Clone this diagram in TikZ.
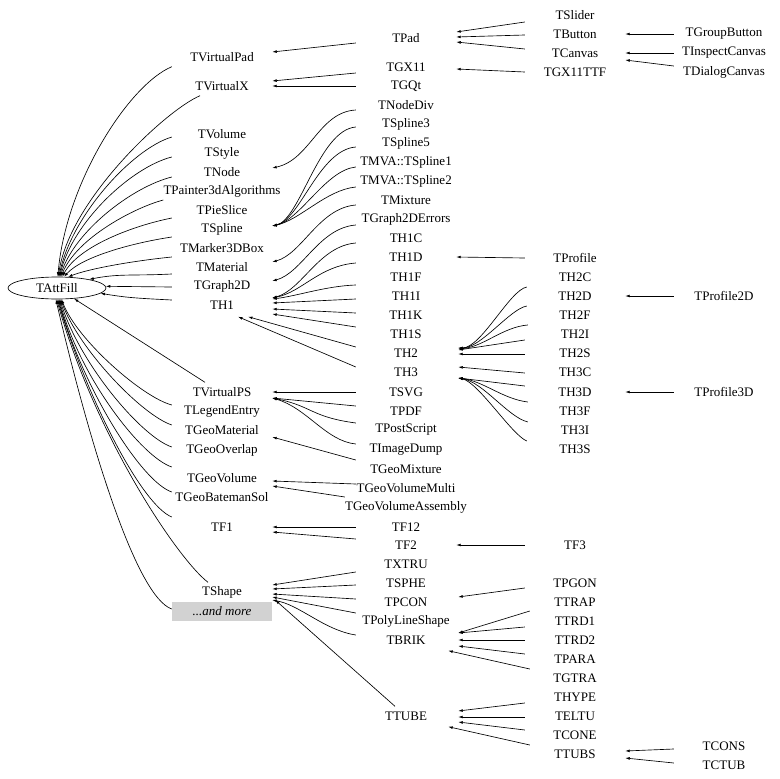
\documentclass[tikz,border=0pt]{standalone}
\usepackage{fontspec}
\setmainfont{Liberation Serif}
\usetikzlibrary{arrows.meta,shapes.geometric,calc}

\tikzset{
  cls/.style={inner sep=0pt,minimum width=100pt,minimum height=19pt,font=\fontsize{13}{15}\selectfont},
  inh/.style={-{Latex[length=4.5pt,width=2.8pt]},line width=0.65pt}
}

\begin{document}
\begin{tikzpicture}[x=1pt,y=-1pt]%[line cap=round,line join=round]
\useasboundingbox (0,0) rectangle (779,779);
% base class
\node [draw,line width=0.65pt,ellipse,inner sep=0pt,minimum width=98pt,minimum height=22pt,font=\fontsize{13}{15}\selectfont] (TAttFill) at (57,288) {TAttFill};
% first level
\node [cls] (TVirtualPad) at (222,57) {TVirtualPad};
\node [cls] (TVirtualX) at (222,86) {TVirtualX};
\node [cls] (TVolume) at (222,134) {TVolume};
\node [cls] (TStyle) at (222,153) {TStyle};
\node [cls] (TNode) at (222,172) {TNode};
\node [cls] (TPainter) at (222,191) {TPainter3dAlgorithms};
\node [cls] (TPieSlice) at (222,210) {TPieSlice};
\node [cls] (TSpline) at (222,229) {TSpline};
\node [cls] (TMarker3DBox) at (222,248) {TMarker3DBox};
\node [cls] (TMaterial) at (222,267) {TMaterial};
\node [cls] (TGraph2D) at (222,286) {TGraph2D};
\node [cls] (TH1) at (222,305) {TH1};
\node [cls] (TVirtualPS) at (222,392) {TVirtualPS};
\node [cls] (TLegendEntry) at (222,411) {TLegendEntry};
\node [cls] (TGeoMaterial) at (222,430) {TGeoMaterial};
\node [cls] (TGeoOverlap) at (222,450) {TGeoOverlap};
\node [cls] (TGeoVolume) at (222,478) {TGeoVolume};
\node [cls] (TGeoBatemanSol) at (222,497) {TGeoBatemanSol};
\node [cls] (TF1) at (222,527) {TF1};
\node [cls] (TShape) at (222,592) {TShape};
\node [cls,fill=gray!35,font=\fontsize{13}{15}\selectfont\itshape] (more) at (222,611) {...and more};
% second level
\node [cls] (TPad) at (406,38) {TPad};
\node [cls] (TGX11) at (406,67) {TGX11};
\node [cls] (TGQt) at (406,86) {TGQt};
\node [cls] (TNodeDiv) at (406,105) {TNodeDiv};
\node [cls] (TSpline3) at (406,124) {TSpline3};
\node [cls] (TSpline5) at (406,143) {TSpline5};
\node [cls] (TMVAspl1) at (406,162) {TMVA::TSpline1};
\node [cls] (TMVAspl2) at (406,181) {TMVA::TSpline2};
\node [cls] (TMixture) at (406,200) {TMixture};
\node [cls] (TGraph2DErrors) at (406,219) {TGraph2DErrors};
\node [cls] (TH1C) at (406,238) {TH1C};
\node [cls] (TH1D) at (406,257) {TH1D};
\node [cls] (TH1F) at (406,277) {TH1F};
\node [cls] (TH1I) at (406,296) {TH1I};
\node [cls] (TH1K) at (406,315) {TH1K};
\node [cls] (TH1S) at (406,334) {TH1S};
\node [cls] (TH2) at (406,353) {TH2};
\node [cls] (TH3) at (406,372) {TH3};
\node [cls] (TSVG) at (406,392) {TSVG};
\node [cls] (TPDF) at (406,411) {TPDF};
\node [cls] (TPostScript) at (406,430) {TPostScript};
\node [cls] (TImageDump) at (406,450) {TImageDump};
\node [cls] (TGeoMixture) at (406,469) {TGeoMixture};
\node [cls] (TGeoVolumeMulti) at (406,488) {TGeoVolumeMulti};
\node [cls] (TGeoVolumeAssembly) at (406,507) {TGeoVolumeAssembly};
\node [cls] (TF12) at (406,527) {TF12};
\node [cls] (TF2) at (406,545) {TF2};
\node [cls] (TXTRU) at (406,564) {TXTRU};
\node [cls] (TSPHE) at (406,583) {TSPHE};
\node [cls] (TPCON) at (406,602) {TPCON};
\node [cls] (TPolyLineShape) at (406,621) {TPolyLineShape};
\node [cls] (TBRIK) at (406,640) {TBRIK};
\node [cls] (TTUBE) at (406,716) {TTUBE};
% third level
\node [cls] (TSlider) at (575,15) {TSlider};
\node [cls] (TButton) at (575,34) {TButton};
\node [cls] (TCanvas) at (575,53) {TCanvas};
\node [cls] (TGX11TTF) at (575,72) {TGX11TTF};
\node [cls] (TProfile) at (575,258) {TProfile};
\node [cls] (TH2C) at (575,277) {TH2C};
\node [cls] (TH2D) at (575,296) {TH2D};
\node [cls] (TH2F) at (575,315) {TH2F};
\node [cls] (TH2I) at (575,334) {TH2I};
\node [cls] (TH2S) at (575,353) {TH2S};
\node [cls] (TH3C) at (575,372) {TH3C};
\node [cls] (TH3D) at (575,392) {TH3D};
\node [cls] (TH3F) at (575,411) {TH3F};
\node [cls] (TH3I) at (575,430) {TH3I};
\node [cls] (TH3S) at (575,449) {TH3S};
\node [cls] (TF3) at (575,545) {TF3};
\node [cls] (TPGON) at (575,583) {TPGON};
\node [cls] (TTRAP) at (575,602) {TTRAP};
\node [cls] (TTRD1) at (575,621) {TTRD1};
\node [cls] (TTRD2) at (575,640) {TTRD2};
\node [cls] (TPARA) at (575,659) {TPARA};
\node [cls] (TGTRA) at (575,678) {TGTRA};
\node [cls] (THYPE) at (575,697) {THYPE};
\node [cls] (TELTU) at (575,716) {TELTU};
\node [cls] (TCONE) at (575,735) {TCONE};
\node [cls] (TTUBS) at (575,754) {TTUBS};
% fourth level
\node [cls] (TGroupButton) at (724,34) {TGroupButton};
\node [cls] (TInspectCanvas) at (724,53) {TInspectCanvas};
\node [cls] (TDialogCanvas) at (724,72) {TDialogCanvas};
\node [cls] (TProfile2D) at (724,296) {TProfile2D};
\node [cls] (TProfile3D) at (724,392) {TProfile3D};
\node [cls] (TCONS) at (724,746) {TCONS};
\node [cls] (TCTUB) at (724,765) {TCTUB};

% first level -> TAttFill, from above
\draw [inh] (TVirtualPad.south west) .. controls +(-43,18) and +(8,-94) .. (TAttFill.86);
\draw [inh] ($(TVirtualX.south)+(-22,0)$) .. controls +(-35,15) and +(10,-75) .. (TAttFill.83);
\draw [inh] ($(TVolume.west)+(0,3)$) .. controls +(-40,12) and +(12,-60) .. (TAttFill.80);
\draw [inh] ($(TStyle.west)+(0,4)$) .. controls +(-40,10) and +(13,-55) .. (TAttFill.77);
\draw [inh] ($(TNode.west)+(0,5)$) .. controls +(-40,10) and +(14,-45) .. (TAttFill.74);
\draw [inh] ($(TPainter.west)+(0,9)$) .. controls +(-30,8) and +(15,-38) .. (TAttFill.70);
\draw [inh] ($(TPieSlice.west)+(0,8)$) .. controls +(-40,8) and +(16,-30) .. (TAttFill.65);
\draw [inh] ($(TSpline.west)+(0,8)$) .. controls +(-40,6) and +(18,-20) .. (TAttFill.58);
\draw [inh] ($(TMarker3DBox.west)+(0,9)$) .. controls +(-40,4) and +(20,-8) .. (TAttFill.45);
\draw [inh] ($(TMaterial.west)+(0,7)$) .. controls +(-40,2) and +(30,-6) .. (TAttFill.15);
\draw [inh] ($(TGraph2D.west)+(0,1)$) -- (TAttFill.2);
\draw [inh] ($(TH1.west)+(0,-5)$) .. controls +(-40,-2) and +(25,4) .. (TAttFill.-7);
% first level -> TAttFill, from below
\draw [inh] ($(TVirtualPS.north)+(-17,0)$) -- (TAttFill.-32);
\draw [inh] ($(TLegendEntry.west)+(0,-6)$) .. controls +(-30,-8) and +(15,40) .. (TAttFill.-68);
\draw [inh] ($(TGeoMaterial.west)+(0,-5)$) .. controls +(-30,-10) and +(18,50) .. (TAttFill.-72);
\draw [inh] ($(TGeoOverlap.west)+(0,-3)$) .. controls +(-30,-10) and +(20,65) .. (TAttFill.-76);
\draw [inh] ($(TGeoVolume.west)+(0,-11)$) .. controls +(-30,-10) and +(22,80) .. (TAttFill.-80);
\draw [inh] ($(TGeoBatemanSol.west)+(0,-5)$) .. controls +(-30,-10) and +(25,90) .. (TAttFill.-84);
\draw [inh] ($(TF1.west)+(0,-10)$) .. controls +(-30,-12) and +(30,100) .. (TAttFill.-88);
\draw [inh] ($(TShape.north)+(-14,0)$) .. controls +(-30,-23) and +(39,138) .. (TAttFill.-92);
\draw [inh] ($(more.west)+(0,-2)$) .. controls +(-35,-12) and +(35,150) .. (TAttFill.-96);

% second level -> first level
\draw [inh] ($(TPad.west)+(0,5)$) -- ($(TVirtualPad.east)+(0,-5)$);
\draw [inh] ($(TGX11.west)+(0,6)$) -- ($(TVirtualX.east)+(0,-5)$);
\draw [inh] (TGQt.west) -- (TVirtualX.east);
\draw [inh] ($(TNodeDiv.west)+(0,5)$) .. controls +(-37,2) and +(38,-8) .. ($(TNode.east)+(0,-4)$);
\draw [inh] ($(TSpline3.west)+(0,3)$) .. controls +(-37,3) and +(28,-6) .. ($(TSpline.east)+(0,-3)$);
\draw [inh] ($(TSpline5.west)+(0,4)$) .. controls +(-37,3) and +(28,-6) .. ($(TSpline.east)+(0,-3)$);
\draw [inh] ($(TMVAspl1.west)+(0,5)$) .. controls +(-30,3) and +(28,-6) .. ($(TSpline.east)+(0,-3)$);
\draw [inh] ($(TMVAspl2.west)+(0,6)$) .. controls +(-30,3) and +(28,-6) .. ($(TSpline.east)+(0,-3)$);
\draw [inh] ($(TMixture.west)+(0,5)$) .. controls +(-37,3) and +(30,-8) .. ($(TMaterial.east)+(0,-5)$);
\draw [inh] ($(TGraph2DErrors.west)+(0,6)$) .. controls +(-37,3) and +(30,-8) .. ($(TGraph2D.east)+(0,-5)$);
\draw [inh] ($(TH1C.west)+(0,5)$) .. controls +(-37,3) and +(30,-8) .. ($(TH1.east)+(0,-7)$);
\draw [inh] ($(TH1D.west)+(0,6)$) .. controls +(-37,3) and +(30,-6) .. ($(TH1.east)+(0,-7)$);
\draw [inh] ($(TH1F.west)+(0,8)$) .. controls +(-30,1) and +(25,-3) .. ($(TH1.east)+(0,-6)$);
\draw [inh] ($(TH1I.west)+(0,3)$) -- ($(TH1.east)+(0,-2)$);
\draw [inh] ($(TH1K.west)+(0,-2)$) -- ($(TH1.east)+(0,4)$);
\draw [inh] ($(TH1S.west)+(0,-7)$) -- ($(TH1.east)+(0,9)$);
\draw [inh] ($(TH2.west)+(0,-6)$) -- ($(TH1.south)+(26,2)$);
\draw [inh] ($(TH3.west)+(0,-5)$) -- ($(TH1.south)+(16,2)$);
\draw [inh] (TSVG.west) -- (TVirtualPS.east);
\draw [inh] ($(TPDF.west)+(0,-5)$) -- ($(TVirtualPS.east)+(0,6)$);
\draw [inh] ($(TPostScript.west)+(0,-7)$) .. controls +(-45,-6) and +(40,8) .. ($(TVirtualPS.east)+(0,6)$);
\draw [inh] ($(TImageDump.west)+(0,-6)$) .. controls +(-30,-3) and +(35,10) .. ($(TVirtualPS.east)+(0,6)$);
\draw [inh] ($(TGeoMixture.west)+(0,-9)$) -- ($(TGeoMaterial.east)+(0,7)$);
\draw [inh] ($(TGeoVolumeMulti.west)+(0,-4)$) -- ($(TGeoVolume.east)+(0,3)$);
\draw [inh] ($(TGeoVolumeAssembly.west)+(0,-10)$) -- ($(TGeoVolume.east)+(0,8)$);
\draw [inh] (TF12.west) -- (TF1.east);
\draw [inh] ($(TF2.west)+(0,-6)$) -- ($(TF1.east)+(0,5)$);
\draw [inh] ($(TXTRU.west)+(0,8)$) -- ($(TShape.east)+(0,-7)$);
\draw [inh] ($(TSPHE.west)+(0,2)$) -- ($(TShape.east)+(0,-3)$);
\draw [inh] ($(TPCON.west)+(0,-3)$) -- ($(TShape.east)+(0,2)$);
\draw [inh] ($(TPolyLineShape.west)+(0,-8)$) -- ($(TShape.east)+(0,5)$);
\draw [inh] ($(TBRIK.west)+(0,-5)$) .. controls +(-32,-5) and +(28,5) .. ($(TShape.east)+(0,8)$);
\draw [inh] ($(TTUBE.north)+(-11,0)$) -- ($(TShape.east)+(3,8)$);

% third level -> second level
\draw [inh] ($(TSlider.west)+(0,7)$) -- ($(TPad.east)+(0,-6)$);
\draw [inh] ($(TButton.west)+(0,1)$) -- ($(TPad.east)+(0,-1)$);
\draw [inh] ($(TCanvas.west)+(0,-4)$) -- ($(TPad.east)+(0,4)$);
\draw [inh] (TGX11TTF.west) -- ($(TGX11.east)+(0,2)$);
\draw [inh] (TProfile.west) -- (TH1D.east);
\draw [inh] ($(TH2C.west)+(2,10)$) .. controls +(-17,3) and +(23,0) .. ($(TH2.east)+(2,-5)$);
\draw [inh] ($(TH2D.west)+(2,10)$) .. controls +(-17,3) and +(23,0) .. ($(TH2.east)+(2,-5)$);
\draw [inh] ($(TH2F.west)+(3,10)$) .. controls +(-25,2) and +(25,-2) .. ($(TH2.east)+(2,-4)$);
\draw [inh] ($(TH2I.west)+(0,6)$) -- ($(TH2.east)+(2,-3)$);
\draw [inh] ($(TH2S.west)+(0,1)$) -- ($(TH2.east)+(2,1)$);
\draw [inh] ($(TH3C.west)+(0,1)$) -- ($(TH3.east)+(2,-5)$);
\draw [inh] ($(TH3D.west)+(0,-6)$) -- ($(TH3.east)+(2,6)$);
\draw [inh] ($(TH3F.west)+(3,-9)$) .. controls +(-25,-3) and +(25,3) .. ($(TH3.east)+(2,6)$);
\draw [inh] ($(TH3I.west)+(3,-8)$) .. controls +(-20,-5) and +(25,4) .. ($(TH3.east)+(2,6)$);
\draw [inh] ($(TH3S.west)+(2,-8)$) .. controls +(-15,-6) and +(20,4) .. ($(TH3.east)+(2,6)$);
\draw [inh] (TF3.west) -- (TF2.east);
\draw [inh] ($(TPGON.west)+(0,5)$) -- ($(TPCON.east)+(2,-5)$);
\draw [inh] ($(TTRAP.west)+(5,9)$) -- ($(TBRIK.east)+(2,-7)$);
\draw [inh] ($(TTRD1.west)+(0,6)$) -- ($(TBRIK.east)+(2,-7)$);
\draw [inh] (TTRD2.west) -- ($(TBRIK.east)+(2,0)$);
\draw [inh] ($(TPARA.west)+(0,-5)$) -- ($(TBRIK.east)+(2,6)$);
\draw [inh] ($(TGTRA.west)+(5,-9)$) -- ($(TBRIK.south east)+(-8,1)$);
\draw [inh] ($(THYPE.west)+(0,6)$) -- ($(TTUBE.east)+(2,-5)$);
\draw [inh] ($(TELTU.west)+(0,1)$) -- ($(TTUBE.east)+(2,1)$);
\draw [inh] ($(TCONE.west)+(0,-5)$) -- ($(TTUBE.east)+(2,6)$);
\draw [inh] ($(TTUBS.west)+(5,-9)$) -- ($(TTUBE.south east)+(-8,1)$);

% fourth level -> third level
\draw [inh] (TGroupButton.west) -- (TButton.east);
\draw [inh] (TInspectCanvas.west) -- (TCanvas.east);
\draw [inh] ($(TDialogCanvas.west)+(0,-6)$) -- ($(TCanvas.east)+(0,7)$);
\draw [inh] (TProfile2D.west) -- (TH2D.east);
\draw [inh] (TProfile3D.west) -- (TH3D.east);
\draw [inh] ($(TCONS.west)+(0,3)$) -- ($(TTUBS.east)+(0,-3)$);
\draw [inh] ($(TCTUB.west)+(0,-2)$) -- ($(TTUBS.east)+(0,4)$);
\end{tikzpicture}
\end{document}
